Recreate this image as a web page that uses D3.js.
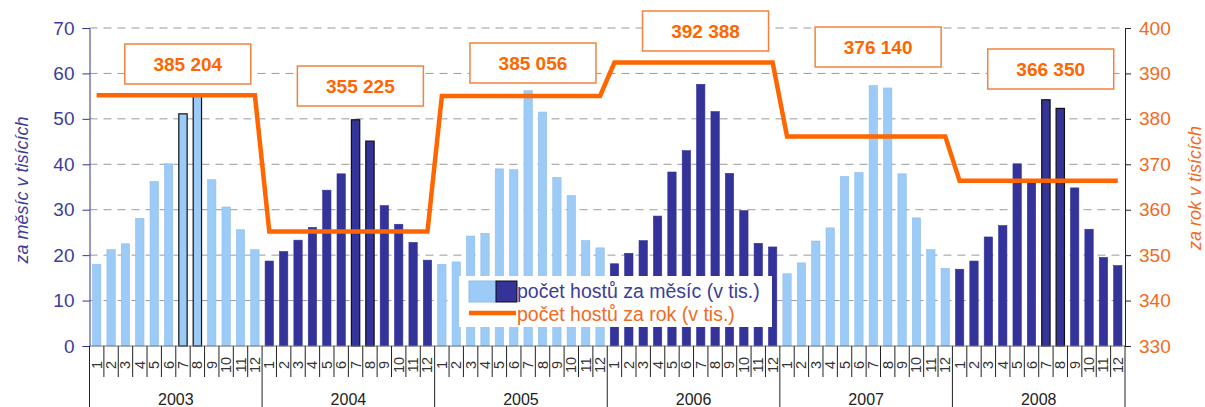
<!DOCTYPE html>
<html>
<head>
<meta charset="utf-8">
<script src="https://cdn.jsdelivr.net/npm/d3@7"></script>
<style>
  body { margin: 0; background: #fff; }
  svg { display: block; font-family: "Liberation Sans", Arial, sans-serif; }
</style>
</head>
<body>
<div id="chart"></div>
<script>
// monthly guests (thousands), Jan..Dec per year
const years = ["2003", "2004", "2005", "2006", "2007", "2008"]
const months = ["1","2","3","4","5","6","7","8","9","10","11","12"]
const monthly2003 = [18.0, 21.2, 22.5, 28.1, 36.2, 40.1, 51.1, 55.5, 36.6, 30.6, 25.6, 21.2]
const monthly2004 = [18.7, 20.8, 23.3, 26.1, 34.3, 37.9, 49.8, 45.1, 30.9, 26.8, 22.8, 18.9]
const monthly2005 = [18.0, 18.5, 24.2, 24.8, 39.0, 38.8, 56.2, 51.5, 37.1, 33.1, 23.2, 21.6]
const monthly2006 = [18.1, 20.4, 23.2, 28.6, 38.3, 43.0, 57.6, 51.6, 38.0, 29.8, 22.6, 21.8]
const monthly2007 = [15.9, 18.3, 23.1, 26.0, 37.3, 38.2, 57.3, 56.8, 37.9, 28.2, 21.2, 17.1]
const monthly2008 = [16.9, 18.7, 24.0, 26.5, 40.1, 36.5, 54.2, 52.3, 34.8, 25.7, 19.5, 17.7]
// yearly guests (thousands)
const yearly = [385.204, 355.225, 385.056, 392.388, 376.140, 366.350]
const yearlyLabels = ["385 204", "355 225", "385 056", "392 388", "376 140", "366 350"]
const leftTicks = [0, 10, 20, 30, 40, 50, 60, 70]
const rightTicks = [330, 340, 350, 360, 370, 380, 390, 400]

// layout of the value boxes (top edge in px)
const labelBoxTop = [44, 66, 43, 11, 27, 49]

const width = 1205, height = 407
const margin = {top: 28, right: 80, bottom: 61, left: 89.5}
const plotRight = 1125
const plotBottom = height - margin.bottom

const monthly = [monthly2003, monthly2004, monthly2005, monthly2006, monthly2007, monthly2008]
const rows = []
monthly.forEach((arr, yi) => arr.forEach((v, mi) => {
  rows.push({key: years[yi] + "-" + months[mi], year: yi, month: mi, value: v, annual: yearly[yi]})
}))

const light = "#9dcbf7", dark = "#333399", orange = "#ff6600"
const isOutlined = d => (d.month === 6 || d.month === 7) && [0, 1, 5].includes(d.year)

const svg = d3.select("#chart").append("svg")
    .attr("width", width)
    .attr("height", height)

const x = d3.scaleBand()
    .domain(rows.map(d => d.key))
    .range([margin.left, plotRight])
    .paddingInner(0.42)
    .paddingOuter(0.21)

const yL = d3.scaleLinear().domain([0, 70]).range([plotBottom, margin.top])
const yR = d3.scaleLinear().domain([330, 400]).range([plotBottom, margin.top])

// dashed grid
svg.append("g")
  .selectAll("line")
  .data(leftTicks.slice(1))
  .join("line")
    .attr("x1", margin.left).attr("x2", plotRight)
    .attr("y1", d => yL(d)).attr("y2", d => yL(d))
    .attr("stroke", "#9a9a9a")
    .attr("stroke-dasharray", "8,6")

// bars
svg.append("g")
  .selectAll("rect")
  .data(rows)
  .join("rect")
    .attr("x", d => x(d.key))
    .attr("width", x.bandwidth())
    .attr("y", d => yL(d.value))
    .attr("height", d => plotBottom - yL(d.value))
    .attr("fill", d => d.year % 2 === 0 ? light : dark)
    .attr("stroke", d => isOutlined(d) ? "#111" : (d.year % 2 === 0 ? "#8fbde8" : dark))
    .attr("stroke-width", d => isOutlined(d) ? 1.2 : 0.6)

// x axis baseline
svg.append("line")
  .attr("x1", margin.left).attr("x2", plotRight)
  .attr("y1", plotBottom).attr("y2", plotBottom)
  .attr("stroke", "#777")

// month separators and labels
const step = x.step()
svg.append("g")
  .selectAll("line")
  .data(rows)
  .join("line")
    .attr("x1", d => x(d.key) - x.paddingOuter() * step)
    .attr("x2", d => x(d.key) - x.paddingOuter() * step)
    .attr("y1", plotBottom)
    .attr("y2", d => d.month === 0 ? height : plotBottom + 31)
    .attr("stroke", "#222")
    .attr("stroke-width", 1)

svg.append("g")
  .selectAll("text")
  .data(rows)
  .join("text")
    .attr("transform", d => `translate(${x(d.key) + x.bandwidth() / 2 + 5},${plotBottom + 19}) rotate(-90)`)
    .attr("text-anchor", "middle")
    .attr("font-size", 14.5)
    .attr("fill", "#333")
    .text(d => months[d.month])

svg.append("g")
  .selectAll("text")
  .data(years)
  .join("text")
    .attr("x", (d, i) => {
      const a = x(years[i] + "-1"), b = x(years[i] + "-12") + x.bandwidth()
      return (a + b) / 2
    })
    .attr("y", 405)
    .attr("text-anchor", "middle")
    .attr("font-size", 16)
    .attr("fill", "#222")
    .text(d => d)

// left axis
const leftAxis = svg.append("g")
  .attr("transform", `translate(${margin.left},0)`)
  .call(d3.axisLeft(yL).tickValues(leftTicks).tickSize(7).tickPadding(8))
leftAxis.select(".domain").attr("stroke", "#333399")
leftAxis.selectAll(".tick line").attr("stroke", "#333399")
leftAxis.selectAll("text")
  .attr("font-size", 19)
  .attr("fill", "#3d3d99")
  .attr("font-family", "Liberation Sans, Arial, sans-serif")
svg.append("line")
  .attr("x1", margin.left).attr("x2", margin.left)
  .attr("y1", plotBottom).attr("y2", height)
  .attr("stroke", "#222")

// right axis
const rightAxis = svg.append("g")
  .attr("transform", `translate(${plotRight},0)`)
  .call(d3.axisRight(yR).tickValues(rightTicks).tickSize(6).tickPadding(8))
rightAxis.select(".domain").attr("stroke", "#222")
rightAxis.selectAll(".tick line").attr("stroke", "#222")
rightAxis.selectAll("text")
  .attr("font-size", 19)
  .attr("fill", "#f26b1d")
  .attr("font-family", "Liberation Sans, Arial, sans-serif")
svg.append("line")
  .attr("x1", plotRight).attr("x2", plotRight)
  .attr("y1", plotBottom).attr("y2", height)
  .attr("stroke", "#222")

// axis titles
svg.append("text")
  .attr("transform", "translate(28,190) rotate(-90)")
  .attr("text-anchor", "middle")
  .attr("font-size", 18)
  .attr("font-style", "italic")
  .attr("fill", "#3d3d99")
  .text("za měsíc v tisících")

svg.append("text")
  .attr("transform", "translate(1201,188) rotate(-90)")
  .attr("text-anchor", "middle")
  .attr("font-size", 18)
  .attr("font-style", "italic")
  .attr("fill", "#f26b1d")
  .text("za rok v tisících")

// yearly line
const line = d3.line()
  .x(d => x(d.key) + x.bandwidth() / 2)
  .y(d => yR(d.annual))

svg.append("path")
  .datum(rows)
  .attr("d", line)
  .attr("fill", "none")
  .attr("stroke", orange)
  .attr("stroke-width", 4.5)
  .attr("stroke-linejoin", "miter")

// value boxes
const boxes = svg.append("g")
  .selectAll("g")
  .data(yearlyLabels)
  .join("g")
    .attr("transform", (d, i) => {
      const a = x(years[i] + "-1"), b = x(years[i] + "-12") + x.bandwidth()
      return `translate(${(a + b) / 2 + 12},${labelBoxTop[i]})`
    })
boxes.append("rect")
  .attr("x", -63).attr("width", 126)
  .attr("y", 0).attr("height", 40)
  .attr("fill", "#fff")
  .attr("stroke", "#f4823c")
  .attr("stroke-width", 1.5)
boxes.append("text")
  .attr("y", 27)
  .attr("text-anchor", "middle")
  .attr("font-size", 19)
  .attr("font-weight", "bold")
  .attr("fill", orange)
  .text(d => d)

// legend
const legend = svg.append("g").attr("transform", "translate(459,276)")
legend.append("rect")
  .attr("width", 313).attr("height", 51)
  .attr("fill", "#fff")
legend.append("rect")
  .attr("x", 10).attr("y", 5).attr("width", 27).attr("height", 21)
  .attr("fill", light).attr("stroke", "#8fbde8")
legend.append("rect")
  .attr("x", 37).attr("y", 5).attr("width", 21).attr("height", 21)
  .attr("fill", dark).attr("stroke", "#111")
legend.append("text")
  .attr("x", 58).attr("y", 21.5)
  .attr("font-size", 19.5)
  .attr("fill", "#3d3d99")
  .text("počet hostů za měsíc (v tis.)")
legend.append("line")
  .attr("x1", 10).attr("x2", 57)
  .attr("y1", 37).attr("y2", 37)
  .attr("stroke", orange).attr("stroke-width", 4.5)
legend.append("text")
  .attr("x", 58).attr("y", 45)
  .attr("font-size", 19.5)
  .attr("fill", "#f26b1d")
  .text("počet hostů za rok (v tis.)")
</script>
</body>
</html>
